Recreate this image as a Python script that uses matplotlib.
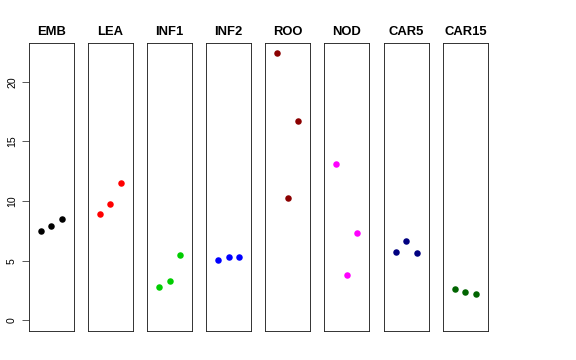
import numpy as np
import matplotlib
matplotlib.use("Agg")
import matplotlib.pyplot as plt

plt.rcParams['font.family'] = ['Liberation Sans', 'DejaVu Sans']

# gruppi e valori
groups = ["EMB", "LEA", "INF1", "INF2", "ROO", "NOD", "CAR5", "CAR15"]
colors = ["black", "red", "#00CD00", "blue", "#8B0000", "magenta", "#000080", "#006400"]
emb = [7.50, 7.87, 8.49]
lea = [8.88, 9.78, 11.49]
inf1 = [2.83, 3.28, 5.46]
inf2 = [5.07, 5.35, 5.32]
roo = [22.38, 10.22, 16.67]
nod = [13.08, 3.78, 7.28]
car5 = [5.74, 6.67, 5.66]
car15 = [2.61, 2.41, 2.18]
values = [emb, lea, inf1, inf2, roo, nod, car5, car15]
yticks = [0, 5, 10, 15, 20]

W, H = 576, 360
fig = plt.figure(figsize=(W / 72, H / 72), dpi=72)

ymax = max(max(v) for v in values)
pad = 0.04 * ymax
lefts = [29, 88, 147.3, 206.3, 265.3, 324.3, 384, 443]
width = 44.8
bottom, top = 331, 42.7

for i, (g, v, c) in enumerate(zip(groups, values, colors)):
    ax = fig.add_axes([lefts[i] / W, (H - bottom) / H, width / W, (bottom - top) / H])
    x = np.arange(1, len(v) + 1)
    ax.plot(x, v, 'o', color=c, markersize=6.5, markeredgewidth=0)
    ax.set_xlim(-0.16, 4.16)
    ax.set_ylim(-pad, ymax + pad)
    ax.set_xticks([])
    for s in ax.spines.values():
        s.set_linewidth(0.9)
        s.set_color('#222222')
    ax.set_title(g, fontsize=13, fontweight='bold', pad=8)
    if i == 0:
        ax.set_yticks(yticks)
        ax.set_yticklabels([str(t) for t in yticks], rotation=90, va='center', fontsize=10.5)
        ax.tick_params(axis='y', length=7, width=0.8, pad=5, color='#333333')
    else:
        ax.set_yticks([])

fig.savefig("out.png", dpi=72)
